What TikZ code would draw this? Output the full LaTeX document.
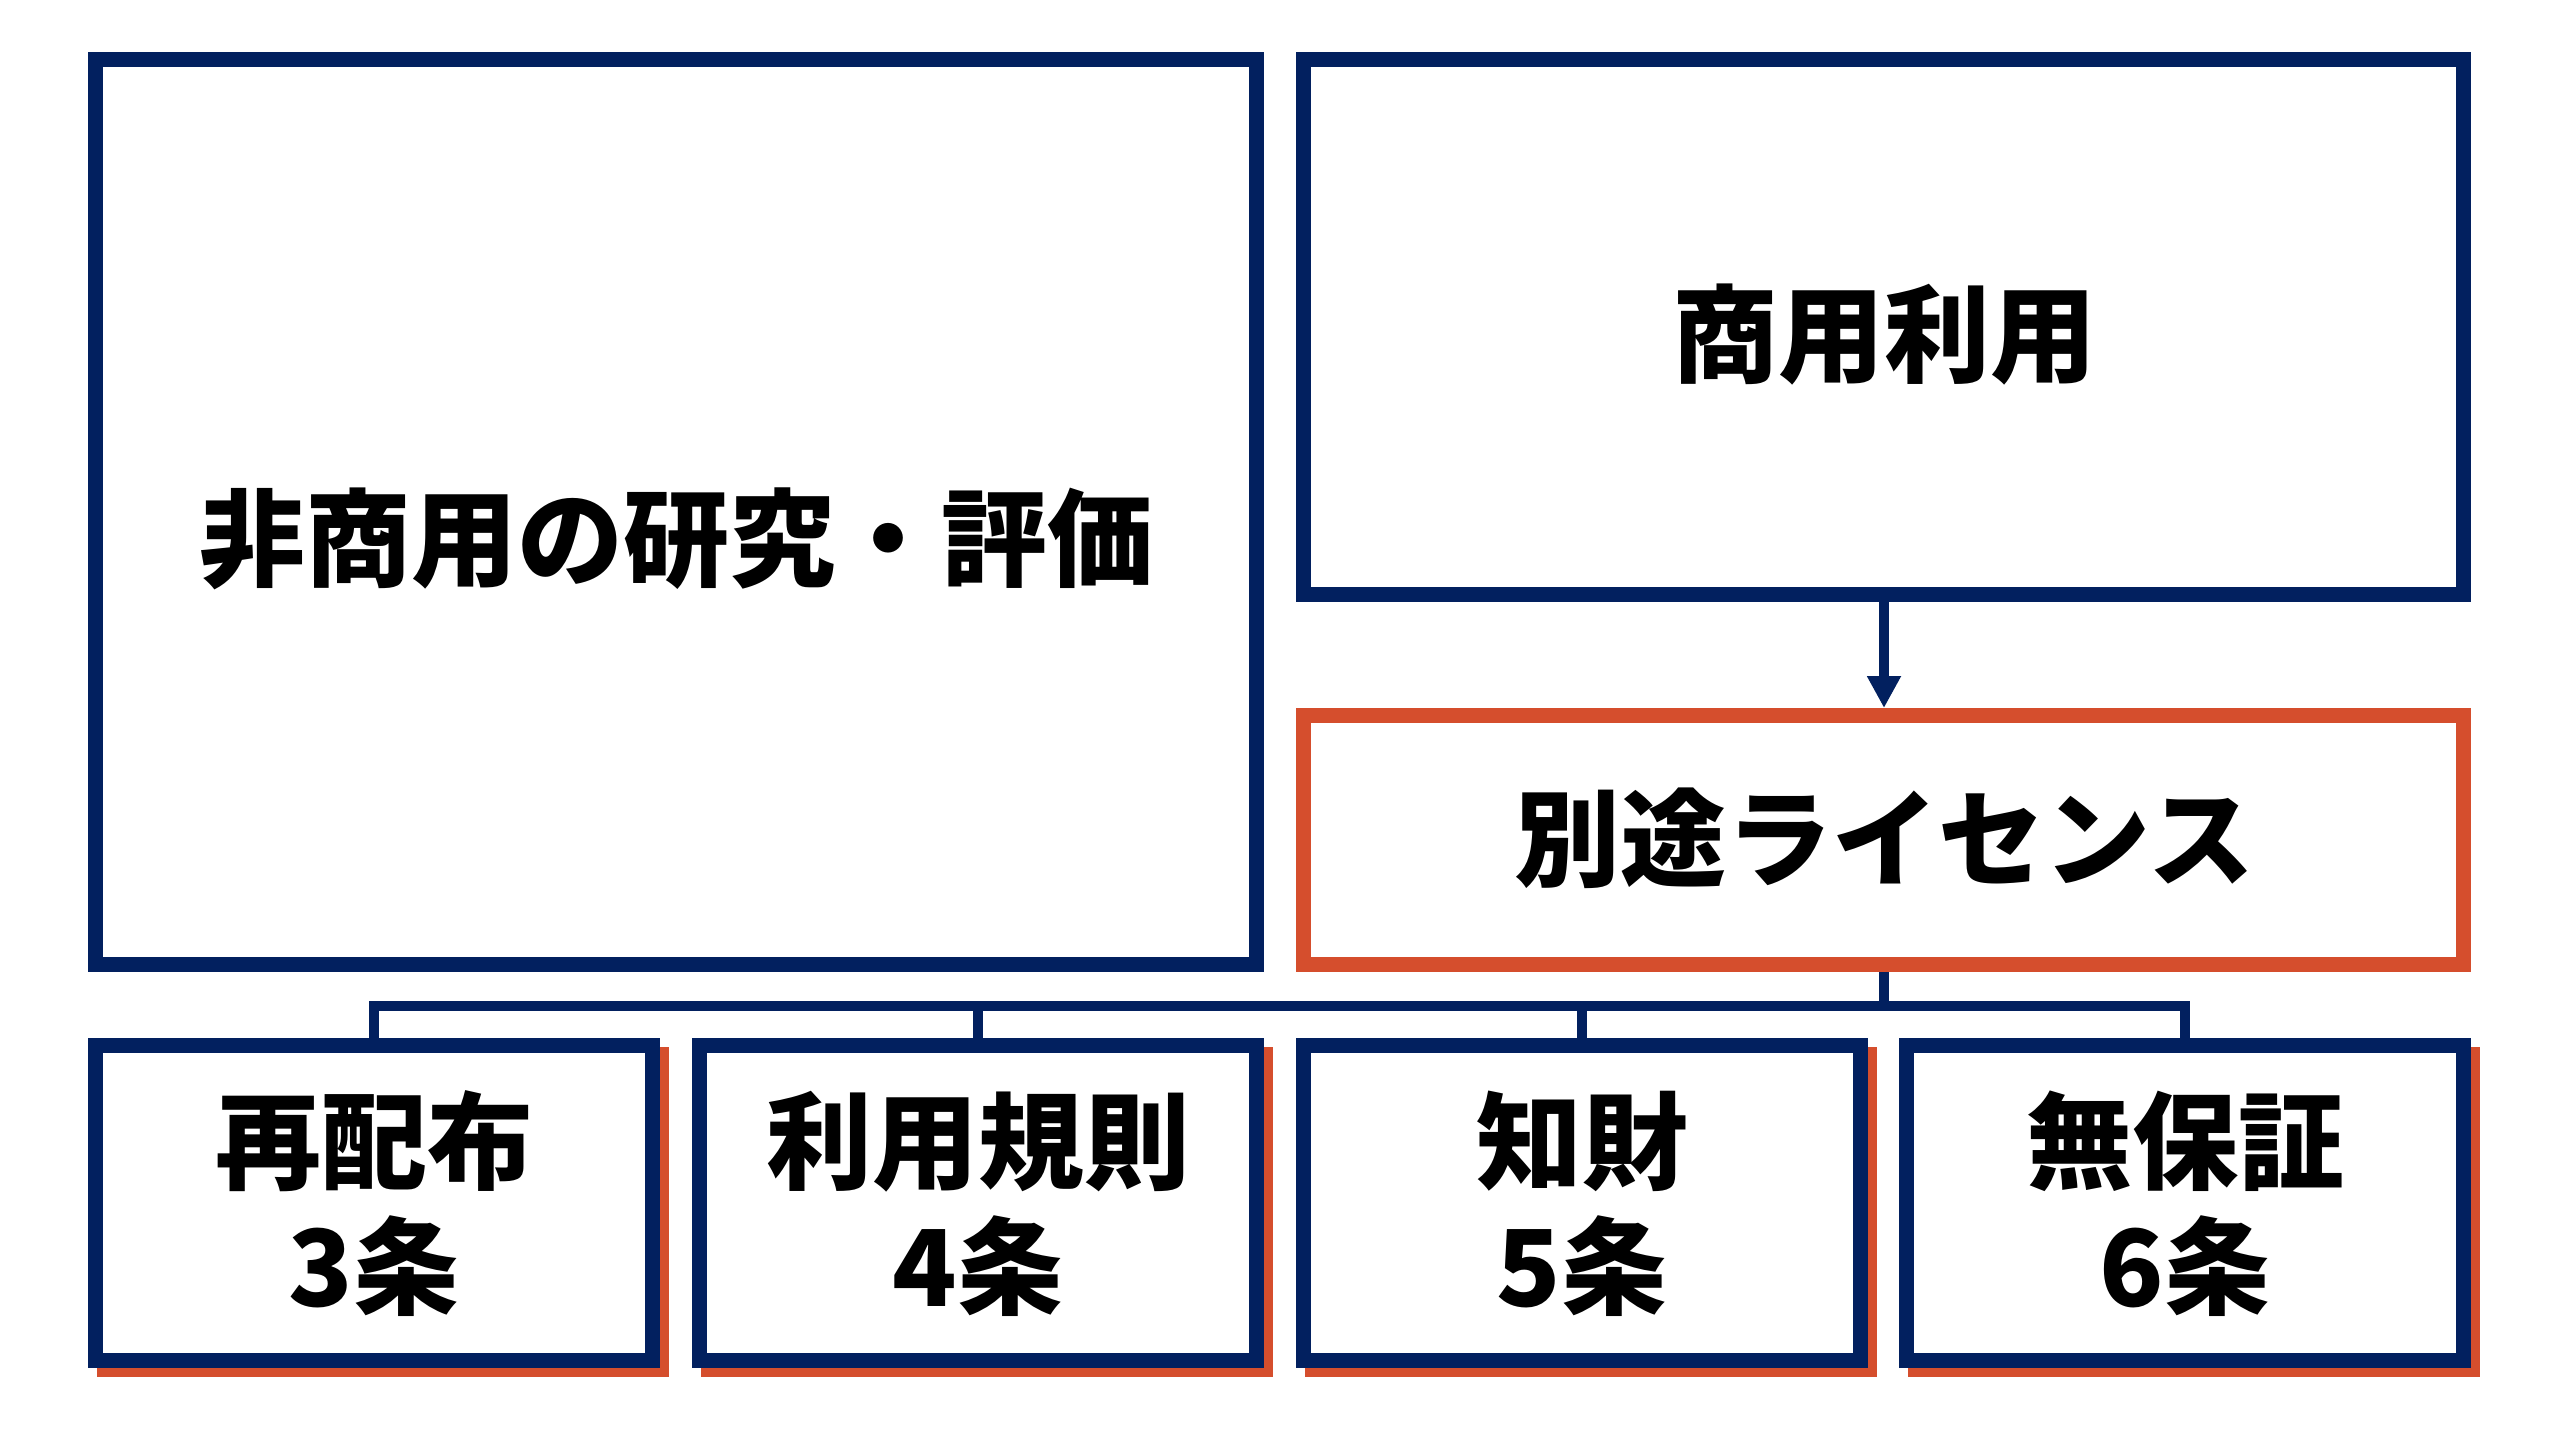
\documentclass[tikz,border=0pt]{standalone}
\usepackage{fontspec}
\setmainfont{Noto Sans CJK JP}
\usetikzlibrary{arrows.meta}
\definecolor{navy}{HTML}{02205F}
\definecolor{rust}{HTML}{D54E2D}
\tikzset{
  frame/.style={draw=navy, line width=15pt, fill=white, inner sep=0pt, rectangle},
  oframe/.style={draw=rust, line width=15pt, fill=white, inner sep=0pt, rectangle},
  shadowbox/.style={draw=rust, line width=15pt, inner sep=0pt, rectangle, minimum width=557pt, minimum height=315pt},
  smallbox/.style={frame, minimum width=557pt, minimum height=315pt},
  label/.style={font=\fontsize{106}{125}\selectfont\bfseries, text=black, align=center, inner sep=0pt},
  conn/.style={draw=navy, line width=10pt, line join=miter},
  arr/.style={conn, -{Triangle[length=32pt,width=32pt]}}
}
\begin{document}
\begin{tikzpicture}[x=1pt,y=-1pt]
\fill[white] (0,0) rectangle (2560,1429);
\useasboundingbox (0,0) rectangle (2560,1429);
% large boxes
\node[frame, minimum width=1161pt, minimum height=905pt] (L) at (676,512) {};
\node[frame, minimum width=1160pt, minimum height=535pt] (R) at (1883.5,327) {};
\node[oframe, minimum width=1160pt, minimum height=249pt] (O) at (1883.5,840) {};
% shadows of small boxes
\node[shadowbox] (s1) at (383,1212) {};
\node[shadowbox] (s2) at (987,1212) {};
\node[shadowbox] (s3) at (1591,1212) {};
\node[shadowbox] (s4) at (2194,1212) {};
% small boxes
\node[smallbox] (b1) at (374,1203) {};
\node[smallbox] (b2) at (978,1203) {};
\node[smallbox] (b3) at (1582,1203) {};
\node[smallbox] (b4) at (2185,1203) {};
% texts
\node[label] (tL) at (676,539) {非商用の研究・評価};
\node[label] (tR) at (1884,335) {商用利用};
\node[label] (tO) at (1884,838) {別途ライセンス};
\node[label] (t1) at (374,1204) {再配布\\3条};
\node[label] (t2) at (978,1204) {利用規則\\4条};
\node[label] (t3) at (1582,1204) {知財\\5条};
\node[label] (t4) at (2185,1204) {無保証\\6条};
% connectors
\coordinate (j) at (1884,1006);
\draw[arr] (R.south -| j) -- (O.north -| j);
\draw[conn] (O.south -| j) -- (j);
\draw[conn] (b1.north) -- (b1.north |- j) -- (b4.north |- j) -- (b4.north);
\draw[conn] (b2.north) -- (b2.north |- j);
\draw[conn] (b3.north) -- (b3.north |- j);
\end{tikzpicture}
\end{document}
